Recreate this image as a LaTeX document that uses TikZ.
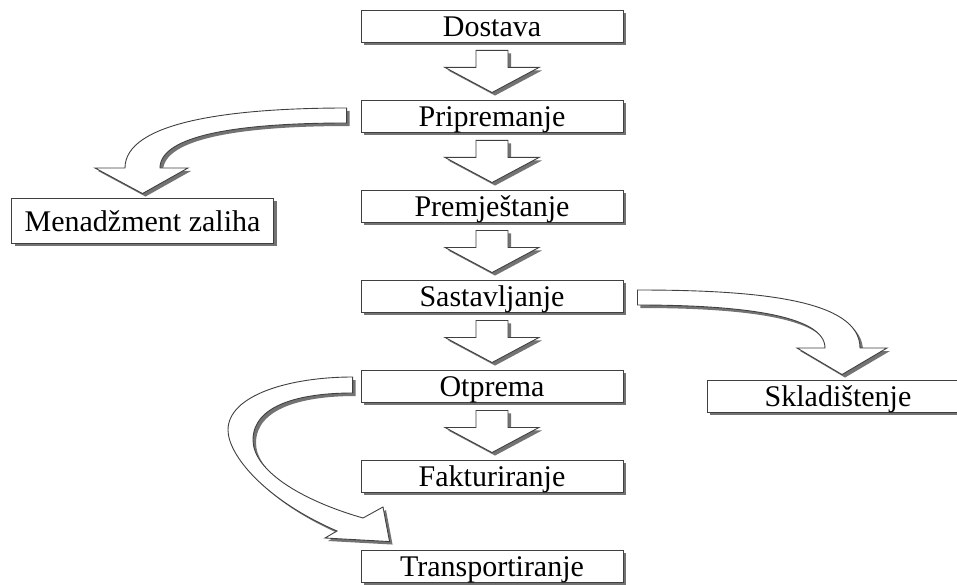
\documentclass[tikz,border=0pt]{standalone}
\usepackage{fontspec}
\setmainfont{Liberation Serif}
\usepackage{tikz}
\usetikzlibrary{calc,shadows}

\begin{document}
\begin{tikzpicture}[x=1pt,y=-1pt]
\tikzstyle{kutija} = [draw=black!75, line width=0.9pt, fill=white, minimum width=262pt, minimum height=32pt, inner sep=0pt, text height=21pt, text depth=0pt, font=\fontsize{30}{32}\selectfont, drop shadow={shadow xshift=3pt, shadow yshift=-3pt, fill=black!55, opacity=1}]
\tikzstyle{strelica} = [draw=black!75, line width=0.9pt, fill=white, line join=miter, drop shadow={shadow xshift=3pt, shadow yshift=-3pt, fill=black!55, opacity=1}]
\useasboundingbox (0,0) rectangle (957,585);
\node[kutija] (v1) at (492,26) {Dostava};
\node[kutija] (v2) at (492,116) {Pripremanje};
\node[kutija] (v3) at (492,206) {Premještanje};
\node[kutija] (v4) at (492,296) {Sastavljanje};
\node[kutija] (v5) at (492,386) {Otprema};
\node[kutija] (v6) at (492,476) {Fakturiranje};
\node[kutija] (v7) at (492,566) {Transportiranje};
\node[kutija, minimum height=45pt] (v8) at (142.5,220.5) {Menadžment zaliha};
\node[kutija] (v9) at (838,396) {Skladištenje};
\foreach \a/\b in {v1/v2,v2/v3,v3/v4,v4/v5,v5/v6}
  \draw[strelica] ($(\a.south)+(-16,8)$) -- ($(\a.south)+(16,8)$) -- ($(\a.south)+(16,25)$) -- ($(\a.south)+(47,25)$) -- ($(\b.north)+(0,-7)$) -- ($(\a.south)+(-47,25)$) -- ($(\a.south)+(-16,25)$) -- cycle;
\draw[strelica] ($(v2.west)+(-14,-8)$) .. controls (230,108) and (125,122) .. (125,168) -- (95,168) -- ($(v8.north)+(0,-4)$) -- (188,168) -- (160,168) .. controls (160,135) and (240,123) .. ($(v2.west)+(-14,7)$) -- cycle;
\draw[strelica] ($(v4.east)+(14,-6)$) .. controls (760,290) and (860,300) .. (860,348) -- (887,348) -- ($(v9.north)+(4,-5)$) -- (797,348) -- (825,348) .. controls (825,315) and (740,305) .. ($(v4.east)+(14,9)$) -- cycle;
\draw[strelica] ($(v5.west)+(-8,-9)$) .. controls (290,377) and (228,395) .. (228,430) .. controls (228,455) and (265,500) .. (337,531) -- (325,538) -- ($(v7.north west)+(29,-8)$) -- (383,507) -- (363,518) .. controls (300,500) and (253,470) .. (253,440) .. controls (253,405) and (300,393) .. ($(v5.west)+(-8,7)$) -- cycle;
\end{tikzpicture}
\end{document}
